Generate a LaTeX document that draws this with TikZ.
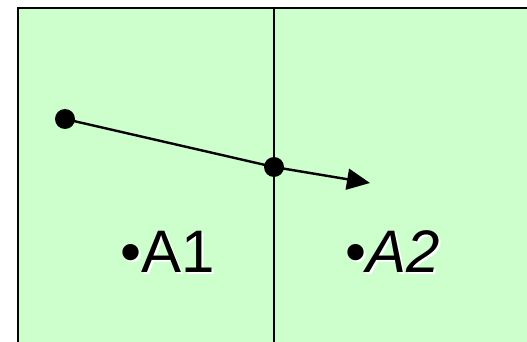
\documentclass[tikz,border=0pt]{standalone}
\usepackage{fontspec}
\setmainfont{Liberation Sans}
\usetikzlibrary{arrows.meta}
\definecolor{paleg}{HTML}{CCFFCC}
\newcommand{\shadowtxt}[1]{\rlap{\hspace{2pt}\raisebox{-2pt}{\color{white}#1}}#1}
\begin{document}
\begin{tikzpicture}[x=1pt,y=-1pt,
  dotn/.style={circle,fill=black,inner sep=0pt,minimum size=20pt},
  conn/.style={line width=2.4pt},
  lbl/.style={font=\fontsize{60}{60}\selectfont,anchor=base west,inner sep=0pt}]
\useasboundingbox (0,0) rectangle (527,342);
\begin{scope}
\clip (0,0) rectangle (527,342);
\draw[fill=paleg,line width=2.8pt] (18,8) rectangle (540,360);
\draw[conn] (274,8) -- (274,360);
\end{scope}
\node[dotn] (p1) at (65,119) {};
\node[dotn] (p2) at (274,167) {};
\coordinate (tip) at (370,183);
\draw[conn] (p1.center) -- (p2.center);
\draw[conn,-{Triangle[length=23pt,width=21pt]}] (p2.center) -- (tip);
\node[lbl] (a1) at (120,272) {\shadowtxt{•A1}};
\node[lbl] (a2) at (345,272) {\shadowtxt{•\textit{A2}}};
\end{tikzpicture}
\end{document}
